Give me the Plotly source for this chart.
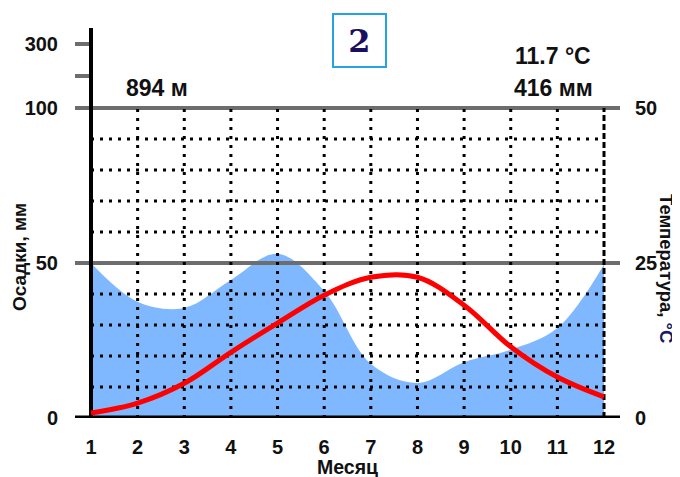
import plotly.graph_objects as go

# ---------------- data ----------------
months = [1, 2, 3, 4, 5, 6, 7, 8, 9, 10, 11, 12]
precip_mm = [50, 37.5, 35.5, 44.5, 53, 41, 17.5, 11.3, 18, 22, 29, 49.5]
temp_c = [0.8, 2.4, 5.6, 10.6, 15.3, 19.8, 22.7, 22.7, 18.2, 11.5, 6.6, 3.4]
precip_ticks = [0, 50, 100, 200, 300]
precip_tick_labels = ["0", "50", "100", "", "300"]
temp_ticks = [0, 25, 50]
grid_mm = [10, 20, 30, 40, 60, 70, 80, 90]
grid_months = [2, 3, 4, 5, 6, 7, 8, 9, 10, 11]
station_height = "894 м"
mean_temp = "11.7 °C"
annual_precip = "416 мм"
panel_number = "2"

# ---------------- scale helpers ----------------
def ymap(v):
    # linear to 100 mm, compressed above
    return v if v <= 100 else 100 + (v - 100) * 0.1032

Y_TOP = 125.8
X0, X1 = 0.657, 12.343
FONT = "Liberation Sans"
GRAY = "#6d6d6d"

fig = go.Figure()

# precipitation fill
fig.add_trace(go.Scatter(
    x=months, y=precip_mm, mode="lines", line=dict(shape="spline", width=0, color="rgb(128,184,255)"),
    fill="tozeroy", fillcolor="rgb(128,184,255)", hoverinfo="skip", showlegend=False))

# gray reference lines at 50 and 100 mm
for v in [50, 100]:
    fig.add_trace(go.Scatter(x=[X0, X1], y=[v, v], mode="lines",
                             line=dict(color=GRAY, width=4), hoverinfo="skip", showlegend=False))
# short gray ticks for 200, 300
for v in [200, 300]:
    fig.add_trace(go.Scatter(x=[X0, months[0]], y=[ymap(v), ymap(v)], mode="lines",
                             line=dict(color=GRAY, width=4), hoverinfo="skip", showlegend=False))

# dotted grid
for g in grid_mm:
    fig.add_trace(go.Scatter(x=[months[0], months[-1]], y=[g, g], mode="lines",
                             line=dict(color="black", width=3, dash="3px,6px"),
                             hoverinfo="skip", showlegend=False))
for m in grid_months:
    fig.add_trace(go.Scatter(x=[m, m], y=[0, 100], mode="lines",
                             line=dict(color="black", width=3, dash="3px,6px"),
                             hoverinfo="skip", showlegend=False))
# dashed last month line
fig.add_trace(go.Scatter(x=[months[-1], months[-1]], y=[0, 100], mode="lines",
                         line=dict(color="black", width=3, dash="6px,3px"),
                         hoverinfo="skip", showlegend=False))

# temperature line
fig.add_trace(go.Scatter(x=months, y=temp_c, yaxis="y2", mode="lines",
                         line=dict(shape="spline", color="#ff0000", width=5),
                         hoverinfo="skip", showlegend=False))

# black axes
fig.add_trace(go.Scatter(x=[X0, X1], y=[0, 0], mode="lines",
                         line=dict(color="black", width=5), hoverinfo="skip", showlegend=False))
fig.add_trace(go.Scatter(x=[months[0], months[0]], y=[-0.8, Y_TOP], mode="lines",
                         line=dict(color="black", width=4), hoverinfo="skip", showlegend=False))

tickfont = dict(family=FONT, size=20, color="#111111", weight="bold")

fig.update_layout(
    width=672, height=469,
    margin=dict(l=67, r=60, t=20, b=59, autoexpand=False),
    paper_bgcolor="white", plot_bgcolor="white",
    xaxis=dict(range=[X0, X1], tickvals=months, ticktext=[str(m) for m in months],
               showgrid=False, zeroline=False, showline=False, automargin=False,
               ticks="outside", ticklen=11, tickcolor="rgba(0,0,0,0)", tickfont=tickfont),
    yaxis=dict(range=[0, Y_TOP], tickvals=[ymap(v) for v in precip_ticks], ticktext=precip_tick_labels,
               showgrid=False, zeroline=False, showline=False, automargin=False,
               ticks="outside", ticklen=12, tickcolor="rgba(0,0,0,0)", tickfont=tickfont),
    yaxis2=dict(range=[0, Y_TOP / 2], overlaying="y", side="right", tickvals=temp_ticks,
                showgrid=False, zeroline=False, showline=False, automargin=False,
                ticks="outside", ticklen=10, tickcolor="rgba(0,0,0,0)", tickfont=tickfont),
)

# helpers: window pixel -> paper coords (page body has an 8px margin)
def px_x(px):
    return (px - 75) / 545

def px_y(py):
    return (418 - py) / 390

ann = [
    dict(text=station_height, x=px_x(157), y=px_y(88), size=23),
    dict(text=mean_temp, x=px_x(553), y=px_y(56), size=23),
    dict(text=annual_precip, x=px_x(553), y=px_y(88), size=23),
    dict(text="Месяц", x=px_x(347), y=px_y(467), size=19.5),
]
for a in ann:
    fig.add_annotation(text=a["text"], x=a["x"], y=a["y"], xref="paper", yref="paper",
                       showarrow=False, xanchor="center", yanchor="middle",
                       font=dict(family=FONT, size=a["size"], color="#111111", weight="bold"))

fig.add_annotation(text="Осадки, мм", x=px_x(19), y=px_y(257), xref="paper", yref="paper",
                   showarrow=False, textangle=-90, xanchor="center", yanchor="middle",
                   font=dict(family=FONT, size=19, color="#111111", weight="bold"))
fig.add_annotation(text="Температура, <span style='color:#1a1a5e'>°C</span>", x=px_x(667), y=px_y(268),
                   xref="paper", yref="paper",
                   showarrow=False, textangle=90, xanchor="center", yanchor="middle",
                   font=dict(family=FONT, size=18.5, color="#111111", weight="bold"))

# panel number box
fig.add_annotation(text=panel_number, x=px_x(359.5), y=px_y(40.5), xref="paper", yref="paper",
                   showarrow=False, xanchor="center", yanchor="middle",
                   width=51, height=51, bordercolor="#25a3e6", borderwidth=2, borderpad=0,
                   font=dict(family="DejaVu Serif", size=32, color="#1b0e5e", weight="bold"))

fig.write_html("out.html")
